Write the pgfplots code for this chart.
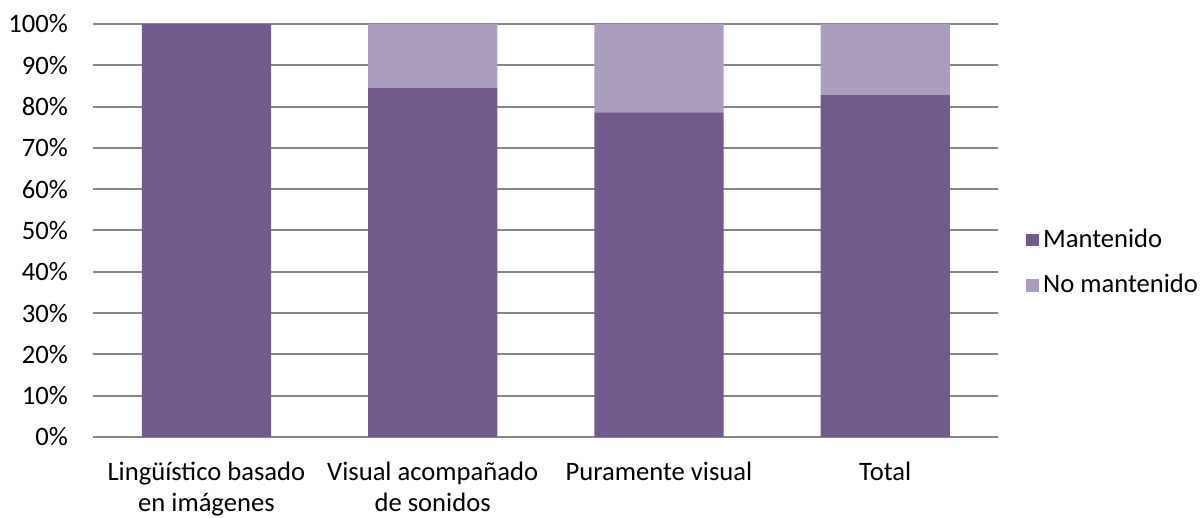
\documentclass[border=0pt]{standalone}
\usepackage{pgfplots}
\pgfplotsset{compat=1.18}
\usepackage{fontspec}
\setmainfont{Carlito}
\definecolor{mant}{RGB}{114,90,142}
\definecolor{nomant}{RGB}{170,157,192}
\definecolor{gridc}{RGB}{134,134,134}
\begin{document}
\fontsize{13.3}{16}\selectfont
\begin{tikzpicture}
\begin{axis}[
  scale only axis, width=452.5pt, height=206.5pt,
  ybar stacked, bar width=64.65pt,
  xmin=-0.5, xmax=3.5, ymin=0, ymax=100,
  xtick={0,1,2,3},
  xticklabels={\strut Lingüístico basado\\en imágenes,\strut Visual acompañado\\de sonidos,\strut Puramente visual,\strut Total},
  ytick={0,10,20,30,40,50,60,70,80,90,100},
  yticklabels={0\%,10\%,20\%,30\%,40\%,50\%,60\%,70\%,80\%,90\%,100\%},
  ymajorgrids, grid style={gridc, line width=1pt},
  major tick length=0pt,
  axis x line*=bottom, axis y line*=left,
  y axis line style={draw=none},
  x axis line style={gridc, line width=1pt},
  tick label style={font=\fontsize{13.3}{15.5}\selectfont, inner sep=0pt, text=black},
  xticklabel style={align=center, anchor=north, yshift=-10.8pt},
  yticklabel style={anchor=east, xshift=-12.5pt},
  legend style={at={(1.0305,0.422)}, anchor=west, draw=none, fill=none,
    font=\fontsize{13.3}{16}\selectfont, row sep=7.5pt, inner sep=0pt},
  legend cell align=left,
  legend image code/.code={\fill[#1] (0pt,-3.2pt) rectangle (6.4pt,3.2pt);},
]
\addplot[fill=mant, draw=none] coordinates {(0,100) (1,84.5) (2,78.6) (3,82.9)};
\addplot[fill=nomant, draw=none] coordinates {(0,0) (1,15.5) (2,21.4) (3,17.1)};
\legend{Mantenido, No mantenido}
\end{axis}
\pgfresetboundingbox
\path[use as bounding box] ([shift={(-46.65pt,-40.5pt)}]current axis.south west) rectangle ([shift={(102.85pt,12pt)}]current axis.north east);
\end{tikzpicture}
\end{document}
